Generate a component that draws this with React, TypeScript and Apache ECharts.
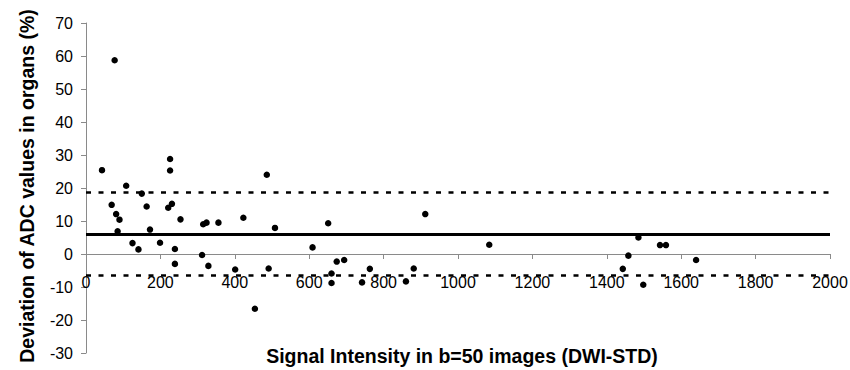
import React, { useEffect, useRef } from "react";
import * as echarts from "echarts";

const xValues = [43, 77, 69, 81, 90, 85, 108, 125, 141, 150, 163, 172, 199, 221, 231, 226, 226, 239, 239, 254, 312, 315, 324, 329, 356, 401, 423, 454, 486, 491, 508, 609, 651, 660, 660, 674, 694, 742, 763, 860, 881, 912, 1084, 1443, 1458, 1485, 1498, 1543, 1559, 1640];
const yValues = [25.4, 58.7, 14.9, 12.1, 10.4, 6.9, 20.7, 3.3, 1.4, 18.3, 14.4, 7.4, 3.4, 14.0, 15.2, 28.8, 25.3, 1.5, -3.0, 10.5, -0.3, 9.0, 9.5, -3.6, 9.5, -4.7, 11.0, -16.6, 24.0, -4.4, 7.9, 2.0, 9.3, -5.9, -8.8, -2.3, -1.8, -8.6, -4.5, -8.3, -4.4, 12.1, 2.8, -4.5, -0.5, 5.0, -9.3, 2.7, 2.7, -1.8];
const meanDiff = 6.1;
const upperLimit = 18.65;
const lowerLimit = -6.4;
const xTitle = "Signal Intensity in b=50 images (DWI-STD)";
const yTitle = "Deviation of ADC values in organs (%)";

const GRID_TOP = 23;
const GRID_BOTTOM = 17;
const CHART_H = 370;
const Y_MIN = -30;
const Y_MAX = 70;

export default function App() {
  const ref = useRef<HTMLDivElement>(null);
  useEffect(() => {
    if (!ref.current) return;
    const chart = echarts.init(ref.current, null, { renderer: "svg" });
    const font = "'Liberation Sans', Arial, sans-serif";
    // shift the x axis up from the grid bottom to the y = 0 position
    const plotH = CHART_H - GRID_TOP - GRID_BOTTOM;
    const zeroOffset = -plotH * ((0 - Y_MIN) / (Y_MAX - Y_MIN));
    chart.setOption({
      animation: false,
      backgroundColor: "#fff",
      grid: { left: 86, right: 20, top: GRID_TOP, bottom: GRID_BOTTOM, containLabel: false, outerBoundsMode: "none" },
      xAxis: {
        type: "value",
        min: 0,
        max: 2000,
        interval: 200,
        offset: zeroOffset,
        axisLine: { show: true, onZero: false, lineStyle: { color: "#8a8a8a", width: 1 } },
        axisTick: { show: true, inside: false, length: 5, lineStyle: { color: "#8a8a8a" } },
        axisLabel: { color: "#000", fontSize: 16, fontFamily: font, margin: 20, formatter: (v: number) => String(v) },
        splitLine: { show: false },
      },
      yAxis: {
        type: "value",
        min: Y_MIN,
        max: Y_MAX,
        interval: 10,
        axisLine: { show: true, onZero: false, lineStyle: { color: "#8a8a8a", width: 1 } },
        axisTick: { show: true, inside: false, length: 5, lineStyle: { color: "#8a8a8a" } },
        axisLabel: { color: "#000", fontSize: 16, fontFamily: font, margin: 13 },
        splitLine: { show: false },
      },
      graphic: [
        {
          type: "text",
          x: 462,
          y: 355.5,
          style: {
            text: xTitle,
            fill: "#000",
            font: `bold 19.5px ${font}`,
            textAlign: "center",
            textVerticalAlign: "middle",
          },
        },
        {
          type: "text",
          x: 26.5,
          y: 186,
          rotation: Math.PI / 2,
          style: {
            text: yTitle,
            fill: "#000",
            font: `bold 19.5px ${font}`,
            textAlign: "center",
            textVerticalAlign: "middle",
          },
        },
      ],
      series: [
        {
          type: "scatter",
          data: xValues.map((x, i) => [x, yValues[i]]),
          symbol: "circle",
          symbolSize: 6.5,
          itemStyle: { color: "#000", opacity: 1 },
          z: 5,
          markLine: {
            silent: true,
            symbol: "none",
            label: { show: false },
            data: [
              { yAxis: meanDiff, lineStyle: { color: "#000", width: 3, type: "solid" } },
              { yAxis: upperLimit, lineStyle: { color: "#000", width: 2.5, type: [5, 7.5] } },
              { yAxis: lowerLimit, lineStyle: { color: "#000", width: 2.5, type: [5, 7.5] } },
            ],
          },
        },
      ],
    });
    return () => chart.dispose();
  }, []);
  return <div ref={ref} style={{ width: 850, height: 370, position: "absolute", left: 0, top: 0 }} />;
}
